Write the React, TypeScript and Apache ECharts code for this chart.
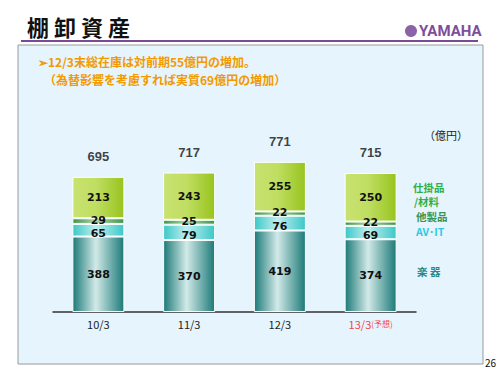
import React, { useEffect, useRef } from "react";
import * as echarts from "echarts";

const categories = ["10/3", "11/3", "12/3", "13/3(予想)"];
const instruments = [388, 370, 419, 374];
const avIt = [65, 79, 76, 69];
const otherProducts = [29, 25, 22, 22];
const wipMaterials = [213, 243, 255, 250];
const totals = [695, 717, 771, 715];

const FONT = '"Noto Sans CJK JP", "Noto Sans", sans-serif';
const NUMFONT = '"DejaVu Sans", "Liberation Sans", sans-serif';

const grad = (edge: string, mid: string, edge2?: string) =>
  new echarts.graphic.LinearGradient(0, 0, 1, 0, [
    { offset: 0, color: edge },
    { offset: 0.45, color: mid },
    { offset: 1, color: edge2 || edge },
  ]);

export default function App() {
  const ref = useRef<HTMLDivElement>(null);
  useEffect(() => {
    if (!ref.current) return;
    const chart = echarts.init(ref.current, null, { renderer: "svg" });
    const segLabel = (offsetY: number) => ({
      show: true,
      position: "inside",
      offset: [0, offsetY],
      color: "#111",
      fontSize: 11,
      lineHeight: 12,
      fontWeight: "bold",
      fontFamily: NUMFONT,
    });
    const mk = (name: string, data: number[], color: any, offsetY: number) => ({
      name,
      type: "bar",
      stack: "total",
      data,
      barWidth: 52,
      itemStyle: { color, borderColor: "#ffffff", borderWidth: 1 },
      label: segLabel(offsetY),
      emphasis: { disabled: true },
    });
    const legendText = (x: number, y: number, text: string, fill: string, font = FONT) => ({
      type: "text",
      x,
      y,
      style: {
        text,
        fontSize: 10.5,
        fontWeight: "bold",
        fill,
        fontFamily: font,
      },
    });
    chart.setOption({
      animation: false,
      backgroundColor: "#ffffff",
      grid: { left: 53, right: 84, top: 117.5, bottom: 63 },
      xAxis: {
        type: "category",
        data: categories,
        axisLine: { lineStyle: { color: "#333", width: 1.5 } },
        axisTick: { inside: true, length: 3, lineStyle: { color: "#333" } },
        axisLabel: {
          interval: 0,
          fontSize: 11,
          color: "#222",
          fontFamily: FONT,
          margin: 6,
          formatter: (v: string) => {
            const m = v.match(/^(.*?)(\(.*\))$/);
            return m ? `{r|${m[1]}}{rs|${m[2]}}` : v;
          },
          rich: {
            r: { color: "#f04848", fontSize: 11, fontFamily: FONT },
            rs: { color: "#f04848", fontSize: 8, fontFamily: FONT },
          },
        },
      },
      yAxis: {
        type: "value",
        min: 0,
        max: 1000,
        show: false,
        splitLine: { show: false },
      },
      series: [
        mk("楽器", instruments, grad("#1c7a78", "#d2eae8"), 0),
        mk("AV･IT", avIt, grad("#3cc8c8", "#c0eeee"), 3),
        mk("他製品", otherProducts, grad("#3e9448", "#a8d8a8"), -1),
        mk("仕掛品/材料", wipMaterials, grad("#c8e270", "#c0de62", "#98c41e"), 0),
        {
          type: "scatter",
          data: totals,
          symbolSize: 0,
          silent: true,
          label: {
            show: true,
            position: "top",
            distance: 14,
            color: "#111",
            fontSize: 13,
            fontWeight: "bold",
            fontFamily: '"Liberation Sans", sans-serif',
          },
        },
      ],
      graphic: [
        {
          type: "rect",
          shape: { x: 18, y: 45, width: 465, height: 319 },
          style: { fill: "#e6f4fd", stroke: "#9a9a9a", lineWidth: 1 },
          z: -10,
        },
        {
          type: "text",
          x: 27,
          y: 15,
          style: {
            text: "棚 卸 資 産",
            fontSize: 22,
            fontWeight: "bold",
            fill: "#111",
            fontFamily: FONT,
          },
        },
        {
          type: "line",
          shape: { x1: 21, y1: 41, x2: 478, y2: 41 },
          style: { stroke: "#7a4a98", lineWidth: 2 },
        },
        {
          type: "circle",
          shape: { cx: 411, cy: 31, r: 6 },
          style: { fill: "#8a62a8" },
        },
        {
          type: "text",
          x: 419,
          y: 23,
          style: {
            text: "YAMAHA",
            fontSize: 15,
            fontWeight: "bold",
            fill: "#7e4e9c",
            fontFamily: '"Liberation Sans Narrow", "Roboto", sans-serif',
          },
        },
        {
          type: "text",
          x: 38,
          y: 55,
          style: {
            text: "➢12/3末総在庫は対前期55億円の増加。",
            fontSize: 12,
            fontWeight: "bold",
            fill: "#f29a00",
            fontFamily: FONT,
          },
        },
        {
          type: "text",
          x: 44,
          y: 73,
          style: {
            text: "（為替影響を考慮すれば実質69億円の増加）",
            fontSize: 12,
            fontWeight: "bold",
            fill: "#f29a00",
            fontFamily: FONT,
          },
        },
        {
          type: "text",
          x: 424,
          y: 129,
          style: { text: "（億円）", fontSize: 11, fill: "#222", fontFamily: FONT },
        },
        legendText(413, 182, "仕掛品", "#2cb04c"),
        legendText(414, 196, "/材料", "#2cb04c"),
        legendText(416, 211, "他製品", "#3a9450"),
        legendText(416, 226, "AV･IT", "#30c8e0"),
        legendText(417, 266, "楽 器", "#2a8888"),
        {
          type: "text",
          x: 485,
          y: 357,
          style: { text: "26", fontSize: 10, fill: "#111", fontFamily: FONT },
        },
      ],
    });
    return () => chart.dispose();
  }, []);
  return <div ref={ref} style={{ width: 500, height: 375, position: "fixed", left: 0, top: 0 }} />;
}
